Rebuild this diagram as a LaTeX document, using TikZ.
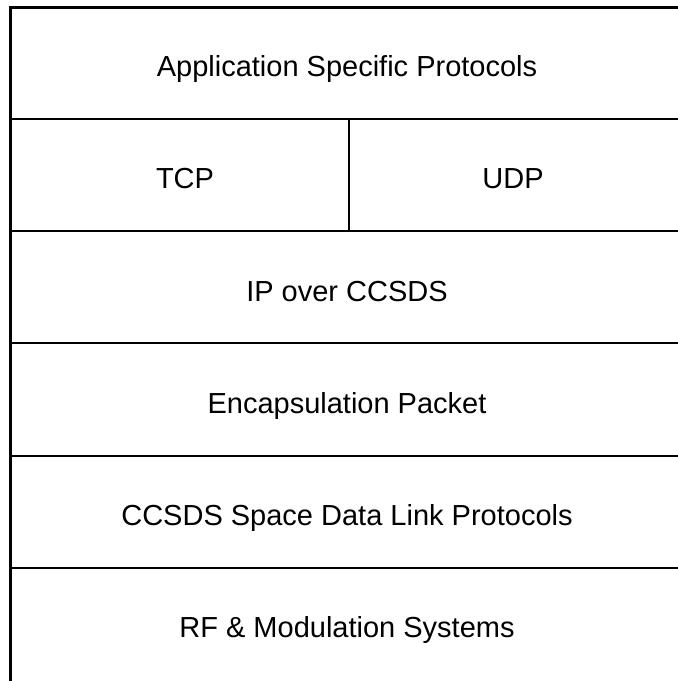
\documentclass[tikz,border=0pt]{standalone}
\usepackage{fontspec}
\setmainfont{Liberation Sans}
\begin{document}
\begin{tikzpicture}[x=1pt,y=-1pt,
  rule/.style={line width=2.6pt,black},
  layer/.style={font=\fontsize{29}{34}\selectfont,inner sep=0pt,anchor=base}]
\useasboundingbox (0,0) rectangle (678,681);
% outer frame: left side and top, open on the right and at the bottom
\draw[rule] (10.5,681) -- (10.5,7.5) -- (678,7.5);
% layer separators
\foreach \y in {119,231,343,456,568}
  \draw[rule] (10.5,\y) -- (678,\y);
% split between TCP and UDP
\draw[rule] (349,119) -- (349,231);
% layer labels (placed by baseline)
\node[layer] (app)  at (347,76.7)  {Application Specific Protocols};
\node[layer] (tcp)  at (185,188.9) {TCP};
\node[layer] (udp)  at (513,188.9) {UDP};
\node[layer] (ip)   at (347,301.1) {IP over CCSDS};
\node[layer] (enc)  at (347,413.3) {Encapsulation Packet};
\node[layer] (sdlp) at (347,525.5) {CCSDS Space Data Link Protocols};
\node[layer] (rf)   at (347,637.2) {RF \& Modulation Systems};
\end{tikzpicture}
\end{document}
